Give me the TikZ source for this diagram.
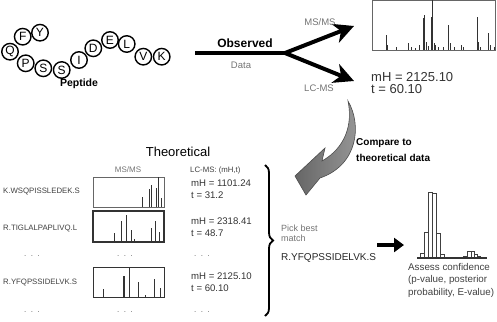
\documentclass[tikz,border=0pt]{standalone}
\usepackage{fontspec}
\setmainfont{Liberation Sans}
\usepackage{tikz}
\usetikzlibrary{positioning,arrows.meta,decorations.pathreplacing}
\newcommand{\fsz}[2]{\fontsize{#1}{#2}\selectfont}

\begin{document}
\begin{tikzpicture}[x=1pt,y=-1pt,
    bead/.style={draw, circle, fill=white, line width=1.4pt, minimum size=16.5pt, inner sep=0pt, font=\fsz{12}{12}},
    fat/.style={line width=4pt, -{Stealth[length=20pt,width=20pt,inset=6pt]}},
    note/.style={font=\fsz{9.5}{10}, text=black!55, inner sep=0pt},
    lbl/.style={font=\fsz{7.8}{8}, text=black!75, anchor=west, inner sep=0pt},
    val/.style={font=\fsz{9.6}{12}, text=black!80, anchor=west, inner sep=0pt, align=left},
    dots/.style={font=\fsz{8}{8}, text=black!60, inner sep=0pt},
    peak/.style={line width=1pt, black!80},
    spec/.style={draw=black!60, line width=0.9pt},
    bar/.style={draw=black!75, line width=0.6pt}]
    \useasboundingbox (0,0) rectangle (497,321);

    % peptide
    \foreach \aa/\bx/\by [count=\i] in {Y/40/32.7, F/22.7/36.7, Q/10/51.7, P/25.7/63.3,
        S/43.3/68.3, S/61.7/70, I/79/60, D/93.3/48.3, E/110/40, L/126.7/44, V/143.3/56.7, K/161.7/56.7}
        \node[bead] (b\i) at (\bx,\by) {\aa};
    \node[font=\bfseries\fsz{10.5}{11}, inner sep=0pt] (pep) at (79,84) {Peptide};

    % observed data
    \coordinate (obs) at (195,53);
    \coordinate (split) at (285,53);
    \coordinate (msend) at (354,26);
    \coordinate (lcend) at (354,81);
    \draw[line width=4pt] (obs) -- (split);
    \draw[fat] (split) -- (msend);
    \draw[fat] (split) -- (lcend);
    \node[font=\bfseries\fsz{12}{12}, inner sep=0pt] (obstext) at (245,43) {Observed};
    \node[note] (datatext) at (241,65) {Data};
    \node[note] (mslbl) at (320,22) {MS/MS};
    \node[note] (lclbl) at (319,88) {LC-MS};

    % observed spectrum
    \draw[spec] (372,0.5) rectangle (495,50);
    \foreach \px/\py in {386/35, 387.5/45, 396/47, 408/43, 411/47, 415/48, 419/45, 423/18, 424.5/15,
        426.5/42, 428/46, 431/17, 432/0.5, 434/43, 435.5/45, 438/47, 443/47, 448/25, 450/43, 454/47,
        461/45, 463/47, 477/17, 478.5/42, 480/47, 488/33, 490/45, 494/47}
        \draw[peak] (\px,50) -- (\px,\py);
    \node[val, font=\fsz{13}{12}] (obsval) at (371,83) {mH = 2125.10\\t = 60.10};

    % compare arrow
    \path[draw=black!70, line width=0.6pt, left color=black!60, right color=black!40]
        (348,101) .. controls (362,125) and (358,165) .. (320,178)
        -- (306,195) -- (295,176) -- (325,148) -- (322,161)
        .. controls (345,148) and (353,125) .. (348,101) -- cycle;
    \node[font=\bfseries\fsz{10}{16}, anchor=west, align=left, inner sep=0pt] (cmp) at (356,150)
        {Compare to\\theoretical data};

    % theoretical
    \node[font=\fsz{13}{13}, inner sep=0pt] (theo) at (178,152) {Theoretical};
    \node[note, font=\fsz{8}{8}] (msms) at (128,170) {MS/MS};
    \node[lbl] (lcms) at (190,170) {LC-MS: (mH,t)};

    \node[lbl] (seq1) at (3,192) {K.WSQPISSLEDEK.S};
    \node[lbl] (seq2) at (3,229) {R.TIGLALPAPLIVQ.L};
    \node[lbl] (seq3) at (3,283) {R.YFQPSSIDELVK.S};

    \draw[spec] (93,177) rectangle (164,207);
    \foreach \px/\py in {142/196.5, 149/189, 151/184.5, 156/187.5, 158/177, 161/198}
        \draw[peak] (\px,207) -- (\px,\py);
    \draw[spec, draw=black!80, line width=1.1pt] (93,211) rectangle (164,242);
    \foreach \px/\py in {114/232.7, 121/221.2, 126/215, 131/229.6, 134/239, 151/228.3, 155/221.2, 159/231.8}
        \draw[peak] (\px,242) -- (\px,\py);
    \draw[spec, draw=black!80] (93,267) rectangle (164,297);
    \foreach \px/\py in {103/288.6, 124/276.3, 129/267, 138/282, 145/294.6, 154/278.7, 160/287.7}
        \draw[peak] (\px,297) -- (\px,\py);
    \draw[peak, line width=1.8pt] (124,297) -- (124,276.3);

    \node[val] (val1) at (191,189) {mH = 1101.24\\t = 31.2};
    \node[val] (val2) at (191,227.5) {mH = 2318.41\\t = 48.7};
    \node[val] (val3) at (191,282.5) {mH = 2125.10\\t = 60.10};

    \foreach \dx in {32,125,202} {
        \node[dots] at (\dx,256) {.\ \ .\ \ .};
        \node[dots] at (\dx,312) {.\ \ .\ \ .};
    }

    % pick best match
    \draw[decorate, decoration={brace, amplitude=8pt}, line width=1.8pt] (265,165) -- (265,316);
    \node[note, anchor=west, align=left, font=\fsz{9}{10}] (pick) at (281,233.5) {Pick best\\match};
    \node[anchor=west, inner sep=0pt, font=\fsz{10}{10}, text=black!85] (best) at (281,258) {R.YFQPSSIDELVK.S};

    \coordinate (go) at (377,245);
    \coordinate (gone) at (404,245);
    \draw[line width=4pt, -{Triangle[length=10pt,width=14pt]}] (go) -- (gone);

    % confidence histogram
    \foreach \xa/\xb/\hy in {420/424/253, 424/428/232, 428/432/192, 432/436/193, 436/440/233, 440/444/254,
        463/467/256, 467/471/251, 471/474/251, 474/477/254, 477/480/256}
        \draw[bar] (\xa,258) rectangle (\xb,\hy);
    \draw[line width=1.2pt, black!80] (417,258) -- (487,258);
    \node[val, font=\fsz{9.8}{12.5}, text=black!75] (assess) at (408,280)
        {Assess confidence\\(p-value, posterior\\probability, E-value)};
\end{tikzpicture}
\end{document}
